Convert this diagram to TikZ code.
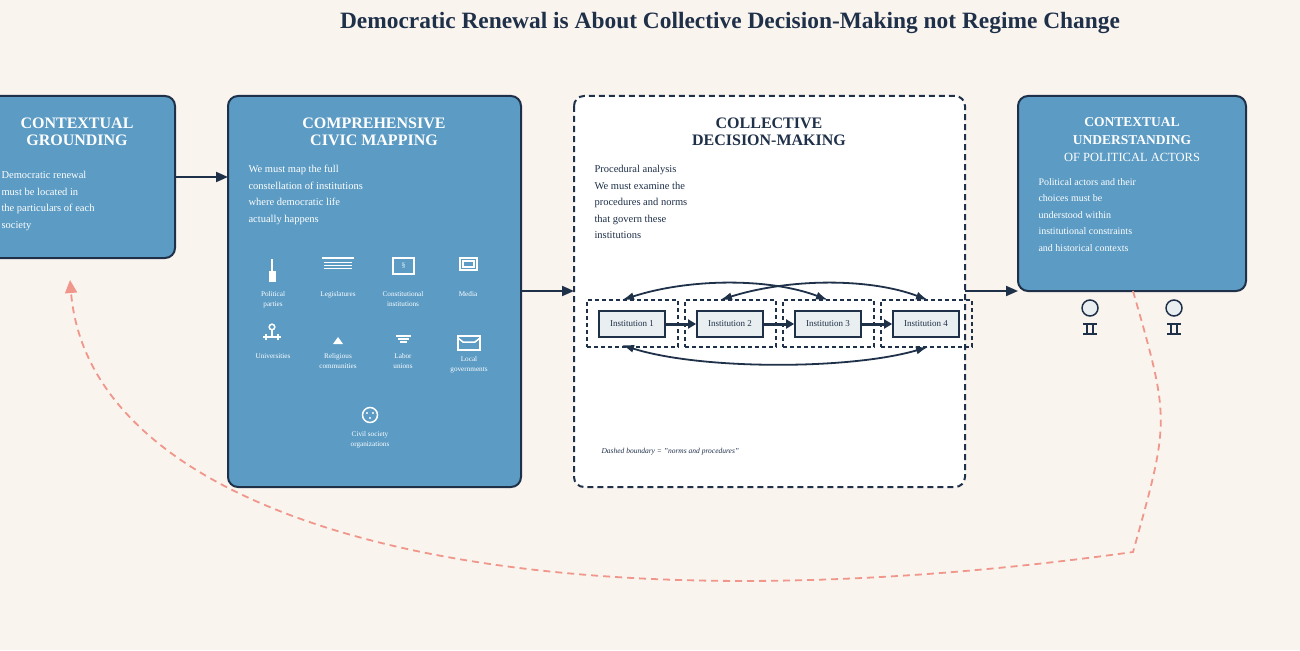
\documentclass[tikz,border=0pt]{standalone}
\usepackage{fontspec}
\setmainfont{Liberation Serif}
\usetikzlibrary{arrows.meta}
\definecolor{bg}{HTML}{FAF4EF}
\definecolor{blu}{HTML}{5B9BC4}
\definecolor{navy}{HTML}{1F3049}
\definecolor{pink}{HTML}{F0968A}
\definecolor{inst}{HTML}{E9EEF0}
\tikzset{
 bigbox/.style={draw=navy,line width=2pt,rounded corners=10pt,fill=blu},
 hdr/.style={text=white,font=\bfseries\fontsize{16}{17.5}\selectfont,align=center},
 body/.style={text=white,font=\fontsize{10.5}{16.5}\selectfont,align=left,anchor=north west},
 lab/.style={text=white,font=\fontsize{7.2}{10}\selectfont,align=center,anchor=north},
 ico/.style={draw=white,line width=1.5pt},
 conn/.style={draw=navy,line width=2pt,-{Triangle[length=12pt,width=10pt]}},
 instbox/.style={draw=navy,line width=1.8pt,fill=inst,minimum width=66pt,minimum height=26pt,font=\fontsize{9}{10}\selectfont,text=navy},
 outerd/.style={draw=navy,line width=1.6pt,dash pattern=on 4pt off 3pt,minimum width=91pt,minimum height=47pt},
 arc/.style={draw=navy,line width=1.8pt,{Latex[length=12pt,width=8pt]}-{Latex[length=12pt,width=8pt]}},
}
\begin{document}
\begin{tikzpicture}[x=1pt,y=-1pt]
\path[fill=bg,use as bounding box] (0,0) rectangle (1300,650);
\begin{scope}
\clip (0,0) rectangle (1300,650);
\node[text=navy,font=\bfseries\fontsize{23.4}{25}\selectfont] (title) at (730,23) {Democratic Renewal is About Collective Decision-Making not Regime Change};
% boxes
\draw[bigbox] (-40,96) rectangle (175,258);
\coordinate (lbR) at (175,177);
\node[hdr] (lh) at (77,132) {CONTEXTUAL\\GROUNDING};
\node[body] (lt) at (-2,168) {Democratic renewal\\must be located in\\the particulars of each\\society};
\draw[bigbox] (228,96) rectangle (521,487);
\coordinate (cbL) at (228,177); \coordinate (cbR) at (521,291);
\node[hdr] (ch) at (374,132) {COMPREHENSIVE\\CIVIC MAPPING};
\node[body] (ct) at (245,162) {We must map the full\\constellation of institutions\\where democratic life\\actually happens};
\draw[draw=navy,line width=2pt,dash pattern=on 6pt off 4pt,rounded corners=10pt,fill=white] (574,96) rectangle (965,487);
\coordinate (dbL) at (574,291); \coordinate (dbR) at (965,291);
\node[hdr,text=navy] (dh) at (769,132) {COLLECTIVE\\DECISION-MAKING};
\node[body,text=navy] (dt) at (591,162) {Procedural analysis\\We must examine the\\procedures and norms\\that govern these\\institutions};
\node[text=navy,font=\itshape\fontsize{7.5}{8}\selectfont,anchor=west] (dn) at (598,452) {Dashed boundary = "norms and procedures"};
\draw[bigbox] (1018,96) rectangle (1246,291);
\coordinate (rbL) at (1018,291);
\node[hdr] (rh) at (1132,140) {\fontsize{13.5}{16}\selectfont CONTEXTUAL\\\fontsize{13.5}{16}\selectfont UNDERSTANDING\\\mdseries\fontsize{12.5}{16}\selectfont OF POLITICAL ACTORS};
\node[body,font=\fontsize{10}{16.5}\selectfont] (rt) at (1035,175) {Political actors and their\\choices must be\\understood within\\institutional constraints\\and historical contexts};
% connectors
\draw[conn] (lbR) -- (cbL);
\draw[conn] (cbR) -- (dbL);
\draw[conn] (dbR) -- (rbL);
% icons row 1
\draw[ico] (272,259) -- (272,272); \fill[white] (269,271) rectangle (276,282);
\draw[ico] (322,258) -- (354,258); \foreach \yy in {262,265,268} \draw[white,line width=1pt] (324,\yy) -- (352,\yy);
\draw[ico] (393,258) rectangle (414,274); \node[text=white,font=\fontsize{7}{7}\selectfont] (sec) at (403.5,266) {§};
\draw[ico] (460,258) rectangle (477,270); \draw[ico] (463,261) rectangle (474,267);
\node[lab] (l1) at (273,288) {Political\\parties};
\node[lab] (l2) at (338,288) {Legislatures};
\node[lab] (l3) at (403,288) {Constitutional\\institutions};
\node[lab] (l4) at (468,288) {Media};
% row 2
\draw[ico] (272,327) circle (2.8); \draw[ico] (272,330) -- (272,337); \draw[ico] (263,337) -- (281,337);
\draw[white,line width=1.2pt] (266,334)--(266,340) (278,334)--(278,340);
\fill[white] (333,344) -- (338,337) -- (343,344) -- cycle;
\draw[white,line width=1.2pt] (396,336)--(411,336) (398,339)--(409,339) (400,342)--(407,342);
\draw[ico] (458,336) rectangle (480,350); \draw[ico] (458,338) -- (463,342) -- (475,342) -- (480,338);
\node[lab] (l5) at (273,350) {Universities};
\node[lab] (l6) at (338,350) {Religious\\communities};
\node[lab] (l7) at (403,350) {Labor\\unions};
\node[lab] (l8) at (469,353) {Local\\governments};
\draw[ico] (370,415) circle (7.5);
\fill[white] (367,413) circle (1.2) (373,413) circle (1.2) (370,418) circle (1.2);
\node[lab] (l9) at (370,428) {Civil society\\organizations};
% institutions
\foreach \i/\xx in {1/632,2/730,3/828,4/926}{
 \node[outerd] (o\i) at (\xx+0.5,323.5) {};
 \node[instbox] (i\i) at (\xx,324) {Institution \i};
}
\foreach \a/\b in {1/2,2/3,3/4}
 \draw[navy,line width=3pt,-{Triangle[length=8pt,width=9pt]}] (i\a.east) -- (i\b.west);
\coordinate (t1) at (622,300); \coordinate (t3) at (828,300);
\coordinate (t2) at (720,300); \coordinate (t4) at (928,300);
\coordinate (b1) at (622,345); \coordinate (b4) at (928,347);
\draw[arc] (t1) .. controls (690,278) and (770,278) .. (t3);
\draw[arc] (t2) .. controls (790,278) and (870,278) .. (t4);
\draw[arc] (b1) .. controls (700,370) and (850,370) .. (b4);
% actors
\foreach \xx in {1090,1174}{
 \draw[navy,line width=1.5pt,fill=inst] (\xx,308) circle (8);
 \draw[navy,line width=1.6pt] (\xx-7,324)--(\xx+7,324) (\xx-7,334)--(\xx+7,334) (\xx-3,324)--(\xx-3,334) (\xx+3,324)--(\xx+3,334);
}
% feedback
\coordinate (fs) at (1133,291); \coordinate (fe) at (70,280);
\draw[pink,line width=1.8pt,dash pattern=on 7pt off 5pt,-{Triangle[length=13pt,width=12pt]}]
 (fs) .. controls (1170,420) .. (1133,552) .. controls (500,640) and (90,520) .. (fe);
\end{scope}
\end{tikzpicture}
\end{document}
